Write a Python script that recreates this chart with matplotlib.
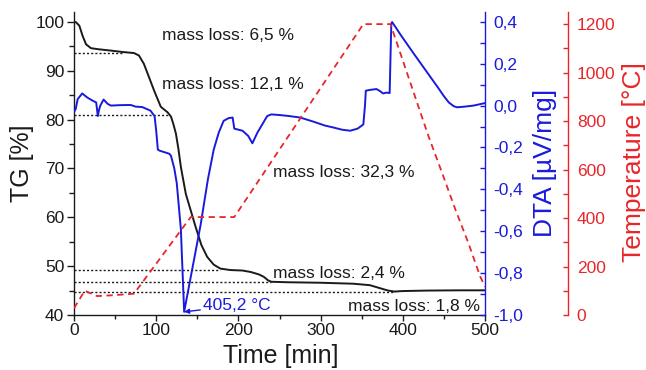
import matplotlib
matplotlib.use("Agg")
import matplotlib.pyplot as plt
from matplotlib.ticker import MultipleLocator, FuncFormatter

plt.rcParams['font.family'] = ['Liberation Sans', 'DejaVu Sans']

# TG curve (time [min], mass [%])
tg_time = [0, 2.4, 6.5, 10.5, 14.6, 20.6, 28.7, 45, 60, 73, 79, 85, 91.4, 97.5,
           105.6, 113.7, 118, 121, 124, 127, 130, 136, 142, 148, 155, 162, 170,
           178, 190, 205, 215, 225, 231, 236, 240, 260, 300, 340, 360, 372, 382,
           390, 400, 430, 470, 500]
tg_mass = [100.0, 99.9, 99.2, 97.1, 95.4, 94.6, 94.4, 94.1, 93.8, 93.6, 93.1,
           91.4, 88.6, 85.9, 82.6, 81.5, 80.6, 79.0, 77.1, 74.0, 70.3, 64.8,
           61.4, 58.0, 54.3, 51.9, 50.3, 49.5, 49.2, 49.1, 48.8, 48.3, 47.8,
           47.1, 46.8, 46.7, 46.6, 46.4, 46.1, 45.5, 45.0, 44.8, 44.9, 45.0,
           45.05, 45.05]

# DTA curve (time [min], µV/mg)
dta_time = [0, 2, 4.5, 10, 16, 22, 27, 29, 30.5, 32, 36, 41, 45, 55, 69, 75, 83,
            93, 98, 100, 102, 104, 108, 112, 116, 118, 122, 125, 130, 134, 154,
            163, 166, 170, 176, 182, 188, 193, 195, 200, 205, 212, 217, 220, 223,
            229, 235, 240, 250, 262, 275, 290, 305, 316, 326, 336, 345, 352, 354,
            355, 360, 368, 372, 376, 380, 384, 386, 387, 392, 397, 405, 413, 423,
            433, 443, 450, 456, 462, 466, 475, 486, 500]
dta_val = [-0.03, -0.017, 0.031, 0.058, 0.039, 0.025, 0.015, -0.05, -0.02, 0.0,
           0.029, 0.008, 0.0, 0.002, 0.003, -0.005, -0.007, -0.024, -0.05, -0.12,
           -0.21, -0.215, -0.22, -0.225, -0.23, -0.24, -0.30, -0.37, -0.59,
           -0.985, -0.57, -0.35, -0.29, -0.21, -0.13, -0.073, -0.06, -0.057,
           -0.11, -0.115, -0.12, -0.145, -0.18, -0.155, -0.13, -0.09, -0.05,
           -0.042, -0.045, -0.05, -0.057, -0.075, -0.095, -0.105, -0.115, -0.12,
           -0.11, -0.09, 0.0, 0.071, 0.075, 0.079, 0.07, 0.058, 0.062, 0.06,
           0.39, 0.399, 0.37, 0.34, 0.295, 0.25, 0.195, 0.14, 0.085, 0.045,
           0.015, -0.003, -0.008, -0.005, 0.0, 0.012]

# temperature programme (time [min], °C)
temp_time = [0, 13, 28, 50, 73, 142, 195, 352, 385, 431, 449, 464, 480, 494, 500]
temp_val = [28, 100, 78, 82, 88, 404, 404, 1200, 1200, 740, 575, 435, 295, 160, 117]

# dotted reference levels (mass %, end time)
ref_levels = [93.7, 81.0, 49.2, 46.8, 44.8]
ref_ends = [60, 116, 178, 240, 390]

# mass loss labels: (text, time, mass, horizontal alignment)
loss_texts = ['mass loss: 6,5 %', 'mass loss: 12,1 %', 'mass loss: 32,3 %',
              'mass loss: 2,4 %', 'mass loss: 1,8 %']
loss_x = [106.7, 106.7, 242, 241.7, 494]
loss_y = [97.1, 87.2, 69.1, 48.55, 41.7]
loss_ha = ['left', 'left', 'left', 'left', 'right']

peak_t, peak_dta = 134, -0.985
peak_label = '405,2 °C'

BLUE = '#1a1adc'
RED = '#e8262a'
BLACK = '#1a1a1a'
FS = 12.5


def comma(v, pos):
    return f"{v:.1f}".replace('.', ',')


fig = plt.figure(figsize=(6.46, 3.70), dpi=100)
ax = fig.add_axes([74 / 646, 55 / 370, 411 / 646, 303 / 370])
ax2 = ax.twinx()
ax3 = ax.twinx()

# TG
ax.plot(tg_time, tg_mass, color=BLACK, lw=1.4, zorder=3)
for lvl, end in zip(ref_levels, ref_ends):
    ax.plot([0, end], [lvl, lvl], color=BLACK, lw=1.0, ls=(0, (1.5, 1.5)), zorder=2)
for s, x, y, ha in zip(loss_texts, loss_x, loss_y, loss_ha):
    ax.text(x, y, s, fontsize=FS, color=BLACK, ha=ha, va='center', zorder=5)

ax.set_xlim(0, 500)
ax.set_ylim(40, 102)
ax.xaxis.set_major_locator(MultipleLocator(100))
ax.xaxis.set_minor_locator(MultipleLocator(50))
ax.yaxis.set_major_locator(MultipleLocator(10))
ax.yaxis.set_minor_locator(MultipleLocator(5))
ax.tick_params(axis='both', which='both', direction='out', labelsize=FS,
               colors=BLACK, width=1.0)
ax.tick_params(axis='y', which='major', length=5, pad=2)
ax.tick_params(axis='y', which='minor', length=3.5)
ax.tick_params(axis='x', which='major', length=4, pad=2)
ax.tick_params(axis='x', which='minor', length=3)
ax.spines['top'].set_visible(False)
ax.spines['right'].set_visible(False)
for sp in ['left', 'bottom']:
    ax.spines[sp].set_color(BLACK)
    ax.spines[sp].set_linewidth(1.0)

# DTA
ax2.plot(dta_time, dta_val, color=BLUE, lw=1.4, zorder=2)
ax2.annotate(peak_label, xy=(peak_t, peak_dta), xytext=(157, -0.955),
             fontsize=FS, color=BLUE, va='center', ha='left',
             arrowprops=dict(arrowstyle='-|>', color=BLUE, lw=1.0,
                             shrinkA=0, shrinkB=0, mutation_scale=7))
ax2.set_ylim(-1.0, 0.447)
ax2.yaxis.set_major_locator(MultipleLocator(0.2))
ax2.yaxis.set_minor_locator(MultipleLocator(0.1))
ax2.yaxis.set_major_formatter(FuncFormatter(comma))
ax2.tick_params(axis='y', which='both', direction='in', colors=BLUE,
                labelcolor=BLUE, labelsize=FS, length=3.5, width=1.0, pad=6)
for sp in ['top', 'left', 'bottom']:
    ax2.spines[sp].set_visible(False)
ax2.spines['right'].set_color(BLUE)
ax2.spines['right'].set_linewidth(1.0)

# Temperature
ax3.plot(temp_time, temp_val, color=RED, lw=1.3, ls=(0, (3.5, 2.5)), zorder=4)
ax3.set_ylim(0, 1250)
ax3.yaxis.set_major_locator(MultipleLocator(200))
ax3.yaxis.set_minor_locator(MultipleLocator(100))
ax3.spines['right'].set_position(('axes', 1.203))
ax3.tick_params(axis='y', which='both', direction='in', colors=RED,
                labelcolor=RED, labelsize=FS, length=3.5, width=1.0, pad=6)
for sp in ['top', 'left', 'bottom']:
    ax3.spines[sp].set_visible(False)
ax3.spines['right'].set_color(RED)
ax3.spines['right'].set_linewidth(1.0)

# axis titles
fig.text(22 / 646, 1 - 163 / 370, 'TG [%]', rotation=90, fontsize=18,
         color=BLACK, ha='center', va='center')
fig.text(545 / 646, 1 - 163 / 370, 'DTA [µV/mg]', rotation=90, fontsize=19,
         color=BLUE, ha='center', va='center')
fig.text(634 / 646, 1 - 162 / 370, 'Temperature [°C]', rotation=90, fontsize=19,
         color=RED, ha='center', va='center')
fig.text(281 / 646, 1 - 356 / 370, 'Time [min]', fontsize=18,
         color=BLACK, ha='center', va='center')

fig.savefig('out.png', dpi=100)
